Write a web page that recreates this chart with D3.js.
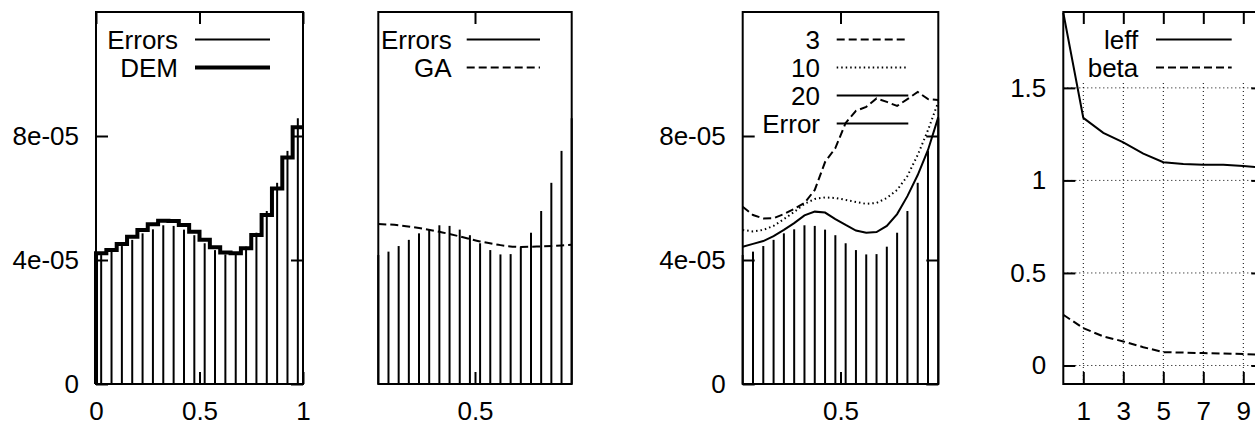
<!DOCTYPE html>
<html><head><meta charset="utf-8">
<script src="https://cdn.jsdelivr.net/npm/d3@7"></script>
<style>
body{margin:0;background:#fff}
svg text{font-family:"Liberation Sans",Arial,Helvetica,sans-serif;font-size:26px;fill:#000}
</style>
</head><body>
<svg id="chart" width="1255" height="425"></svg>
<script>
// ---------- data ----------
const binX = [0.025,0.075,0.125,0.175,0.225,0.275,0.325,0.375,0.425,0.475,0.525,0.575,0.625,0.675,0.725,0.775,0.825,0.875,0.925,0.975];
const errors = [4.16e-5,4.27e-5,4.45e-5,4.65e-5,4.86e-5,4.99e-5,5.12e-5,5.10e-5,4.98e-5,4.80e-5,4.54e-5,4.32e-5,4.18e-5,4.19e-5,4.43e-5,4.88e-5,5.58e-5,6.49e-5,7.52e-5,8.57e-5];
const dem = [4.22e-5,4.32e-5,4.52e-5,4.75e-5,4.97e-5,5.15e-5,5.27e-5,5.26e-5,5.13e-5,4.91e-5,4.65e-5,4.41e-5,4.24e-5,4.22e-5,4.38e-5,4.81e-5,5.45e-5,6.31e-5,7.31e-5,8.28e-5];
const gaX = [0.025,0.125,0.225,0.325,0.425,0.525,0.625,0.725,0.825,0.925,0.975];
const gaY = [5.16e-5,5.12e-5,5.03e-5,4.91e-5,4.76e-5,4.60e-5,4.48e-5,4.42e-5,4.44e-5,4.47e-5,4.49e-5];
const run3 = [5.72e-5,5.45e-5,5.34e-5,5.35e-5,5.48e-5,5.65e-5,5.84e-5,6.26e-5,7.16e-5,7.61e-5,8.42e-5,8.81e-5,8.94e-5,9.21e-5,9.10e-5,8.97e-5,9.19e-5,9.42e-5,9.19e-5,9.16e-5];
const run10 = [4.97e-5,4.92e-5,4.97e-5,5.10e-5,5.32e-5,5.55e-5,5.81e-5,5.97e-5,6.02e-5,6.00e-5,5.94e-5,5.87e-5,5.81e-5,5.84e-5,6.00e-5,6.26e-5,6.71e-5,7.39e-5,8.19e-5,9.10e-5];
const run20 = [4.43e-5,4.52e-5,4.61e-5,4.77e-5,4.97e-5,5.19e-5,5.44e-5,5.56e-5,5.53e-5,5.32e-5,5.13e-5,4.95e-5,4.88e-5,4.90e-5,5.10e-5,5.48e-5,6.06e-5,6.74e-5,7.55e-5,8.61e-5];
const iterX = [0,1,2,3,4,5,6,7,8,9,10];
const leff = [1.906,1.338,1.257,1.206,1.145,1.098,1.089,1.085,1.084,1.078,1.068];
const beta = [0.274,0.202,0.157,0.130,0.099,0.072,0.070,0.067,0.065,0.062,0.057];

const errYTicks = [0, 4e-5, 8e-5];
const errYLabels = ["0", "4e-05", "8e-05"];
const p1XTicks = [0, 0.5, 1];
const p1XLabels = ["0", "0.5", "1"];
const midXTicks = [0.5];
const midXLabels = ["0.5"];
const p4XTicks = [1, 3, 5, 7, 9];
const p4YTicks = [0, 0.5, 1, 1.5];
const p4YLabels = ["0", "0.5", "1", "1.5"];

// ---------- layout ----------
const svg = d3.select("#chart");
svg.append("rect").attr("width",1255).attr("height",425).attr("fill","#fff");
const TOP = 12, BOT = 384, TICK = 12;

function makeAxes(g, x, y, opts) {
  const w = x.range()[1] - x.range()[0];
  const style = sel => {
    sel.attr("font-size", null).attr("font-family", null);
    sel.select(".domain").remove();
    sel.selectAll(".tick line").attr("stroke","#000").attr("stroke-width",2);
    sel.selectAll(".tick text").attr("fill","#000");
  };
  // bottom
  const ab = d3.axisBottom(x).tickValues(opts.xTicks).tickSize(-TICK).tickPadding(18)
    .tickFormat((d,i) => opts.xLabels ? opts.xLabels[i] : "");
  g.append("g").attr("transform",`translate(0,${BOT})`).call(ab).call(style);
  // top mirror
  const at = d3.axisTop(x).tickValues(opts.xTicks).tickSize(-TICK).tickFormat("");
  g.append("g").attr("transform",`translate(0,${TOP})`).call(at).call(style);
  if (opts.yTicks) {
    const al = d3.axisLeft(y).tickValues(opts.yTicks).tickSize(-TICK).tickPadding(17)
      .tickFormat((d,i) => opts.yLabels[i]);
    g.append("g").attr("transform",`translate(${x.range()[0]},0)`).call(al).call(style);
    const ar = d3.axisRight(y).tickValues(opts.yTicks).tickSize(-TICK).tickFormat("");
    g.append("g").attr("transform",`translate(${x.range()[1]},0)`).call(ar).call(style);
  }
  g.selectAll(".tick text").style("font-size","26px");
  // frame
  g.append("rect").attr("x",x.range()[0]).attr("y",TOP).attr("width",w).attr("height",BOT-TOP)
    .attr("fill","none").attr("stroke","#000").attr("stroke-width",2);
}

function impulses(g, x, y) {
  g.append("g").selectAll("line").data(binX).join("line")
    .attr("x1", d => x(d)).attr("x2", d => x(d))
    .attr("y1", y(0)).attr("y2", (d,i) => y(errors[i]))
    .attr("stroke","#000").attr("stroke-width",2);
}

function legend(g, xTextEnd, x1, x2, items) {
  items.forEach((it, i) => {
    const yy = 39.5 + i*28;
    g.append("text").attr("x", xTextEnd).attr("y", yy).attr("dy","0.35em")
      .attr("text-anchor","end").text(it.label);
    g.append("line").attr("x1",x1).attr("x2",x2).attr("y1",yy).attr("y2",yy)
      .attr("stroke","#000").attr("stroke-width",it.w || 2)
      .attr("stroke-dasharray", it.dash || null);
  });
}

const yErr = d3.scaleLinear().domain([0, 1.2e-4]).range([BOT, TOP]);

// ---------- panel 1 ----------
{
  const g = svg.append("g");
  const x = d3.scaleLinear().domain([0,1]).range([96,303]);
  impulses(g, x, yErr);
  // DEM histogram steps
  const pts = [[0, 0]];
  binX.forEach((bx, i) => {
    const lo = i === 0 ? 0 : (binX[i-1] + bx)/2;
    const hi = i === binX.length-1 ? 1 : (bx + binX[i+1])/2;
    pts.push([lo, dem[i]]); pts.push([hi, dem[i]]);
  });
  g.append("path").attr("d", d3.line().x(d=>x(d[0])).y(d=>yErr(d[1]))(pts))
    .attr("fill","none").attr("stroke","#000").attr("stroke-width",4).attr("stroke-linejoin","miter");
  makeAxes(g, x, yErr, {xTicks:p1XTicks, xLabels:p1XLabels, yTicks:errYTicks, yLabels:errYLabels});
  legend(g, 178, 195, 270, [{label:"Errors"},{label:"DEM", w:4}]);
}

// ---------- panel 2 ----------
{
  const g = svg.append("g");
  const x = d3.scaleLinear().domain([0.025,0.975]).range([378.3,571.7]);
  impulses(g, x, yErr);
  g.append("path").attr("d", d3.line().x((d,i)=>x(d)).y((d,i)=>yErr(gaY[i])).curve(d3.curveMonotoneX)(gaX))
    .attr("fill","none").attr("stroke","#000").attr("stroke-width",2).attr("stroke-dasharray","8,4");
  makeAxes(g, x, yErr, {xTicks:midXTicks, xLabels:midXLabels});
  legend(g, 451.7, 466.7, 540, [{label:"Errors"},{label:"GA", dash:"8,4"}]);
}

// ---------- panel 3 ----------
{
  const g = svg.append("g");
  const x = d3.scaleLinear().domain([0.025,0.975]).range([742.7,938.3]);
  impulses(g, x, yErr);
  const line = vals => d3.line().x(d=>x(d)).y((d,i)=>yErr(vals[i]))(binX);
  g.append("path").attr("d", line(run3)).attr("fill","none").attr("stroke","#000").attr("stroke-width",2).attr("stroke-dasharray","8,4");
  g.append("path").attr("d", line(run10)).attr("fill","none").attr("stroke","#000").attr("stroke-width",2).attr("stroke-dasharray","1.5,3");
  g.append("path").attr("d", line(run20)).attr("fill","none").attr("stroke","#000").attr("stroke-width",2);
  makeAxes(g, x, yErr, {xTicks:midXTicks, xLabels:midXLabels, yTicks:errYTicks, yLabels:errYLabels});
  legend(g, 820, 836.7, 908.3, [{label:"3", dash:"8,4"},{label:"10", dash:"1.5,3"},{label:"20"},{label:"Error"}]);
}

// ---------- panel 4 ----------
{
  const g = svg.append("g");
  const x = d3.scaleLinear().domain([0,10]).range([1063.3,1263.3]);
  const y = d3.scaleLinear().domain([-0.1,1.91]).range([BOT,TOP]);
  // grid
  const grid = g.append("g").attr("stroke","#000").attr("stroke-width",1).attr("stroke-dasharray","1,3");
  grid.selectAll("line.v").data(p4XTicks).join("line").attr("class","v")
    .attr("x1",d=>x(d)).attr("x2",d=>x(d)).attr("y1",y(0-0.1)).attr("y2",y(1.91));
  grid.selectAll("line.h").data(p4YTicks).join("line").attr("class","h")
    .attr("x1",x(0)).attr("x2",x(10)).attr("y1",d=>y(d)).attr("y2",d=>y(d));
  // opaque key box
  g.append("rect").attr("x",1078).attr("y",TOP+1).attr("width",190).attr("height",67).attr("fill","#fff");
  makeAxes(g, x, y, {xTicks:p4XTicks, xLabels:p4XTicks.map(String), yTicks:p4YTicks, yLabels:p4YLabels});
  const line = vals => d3.line().x(d=>x(d)).y((d,i)=>y(vals[i]))(iterX);
  g.append("path").attr("d", line(leff)).attr("fill","none").attr("stroke","#000").attr("stroke-width",2);
  g.append("path").attr("d", line(beta)).attr("fill","none").attr("stroke","#000").attr("stroke-width",2).attr("stroke-dasharray","8,4");
  legend(g, 1138.3, 1156, 1231.7, [{label:"leff"},{label:"beta", dash:"8,4"}]);
}
</script>
</body></html>
